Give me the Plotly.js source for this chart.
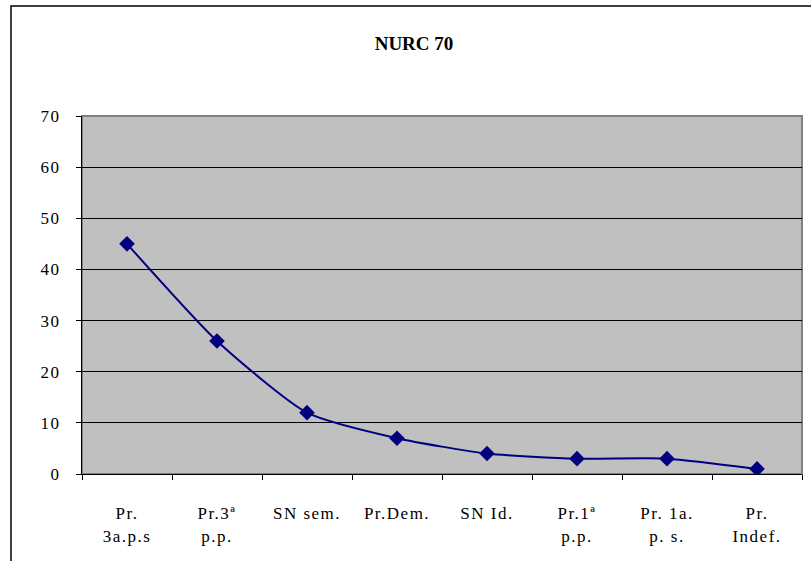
<!DOCTYPE html>
<html>
<head>
<meta charset="utf-8">
<script src="https://cdn.plot.ly/plotly-3.0.1.min.js"></script>
<style>
body{margin:0;padding:0;background:#fff;}
#chart{width:811px;height:561px;}
.xtick text, .ytick text {letter-spacing: 1.5px;}
</style>
</head>
<body>
<div id="chart"></div>
<script>
const categories = ["Pr.<br>3a.p.s", "Pr.3ª<br>p.p.", "SN sem.", "Pr.Dem.", "SN Id.", "Pr.1ª<br>p.p.", "Pr. 1a.<br>p. s.", "Pr.<br>Indef."];
const values = [45, 26, 12, 7, 4, 3, 3, 1];
const chartTitle = "NURC 70";

const L = 82, R = 811 - 802, T = 116, B = 561 - 474;
const pw = 811 - L - R, ph = 561 - T - B;

const trace = {
  x: categories, y: values, type: "scatter", mode: "lines+markers",
  line: {color: "#000080", width: 2, shape: "spline", smoothing: 0.6},
  marker: {symbol: "diamond", size: 12, color: "#000080"},
  hoverinfo: "skip"
};

const layout = {
  width: 811, height: 561,
  margin: {l: L, r: R, t: T, b: B},
  paper_bgcolor: "#ffffff", plot_bgcolor: "#c0c0c0",
  showlegend: false,
  font: {family: "Liberation Serif", size: 17, color: "#000"},
  title: {text: "<b>" + chartTitle + "</b>", font: {size: 19, family: "Liberation Serif"}, x: 414 / 811, xref: "container", xanchor: "center", y: 1 - 43/561, yanchor: "middle"},
  xaxis: {
    type: "category", range: [-0.5, 7.5], tickson: "boundaries",
    ticks: "outside", ticklen: 5, tickcolor: "#000", tickwidth: 1,
    showline: true, linecolor: "#000", linewidth: 1, showgrid: false, zeroline: false,
    ticklabelstandoff: 24, fixedrange: true, tickangle: 0
  },
  yaxis: {
    range: [0, 70], dtick: 10, tick0: 0,
    ticks: "outside", ticklen: 5, tickcolor: "#000", tickwidth: 1,
    showline: true, linecolor: "#000", linewidth: 1,
    showgrid: true, gridcolor: "#000", gridwidth: 1, zeroline: false,
    ticklabelstandoff: 12, fixedrange: true
  },
  shapes: [
    {type: "rect", xref: "paper", yref: "paper", x0: 0, x1: 1, y0: 0, y1: 1, line: {color: "#808080", width: 2}, layer: "below"},
    {type: "rect", xref: "paper", yref: "paper", x0: (11 - L) / pw, x1: 2, y0: -1, y1: (474 - 6) / ph, line: {color: "#000", width: 1.5}}
  ]
};

Plotly.newPlot("chart", [trace], layout, {displayModeBar: false, staticPlot: true});
</script>
</body>
</html>
